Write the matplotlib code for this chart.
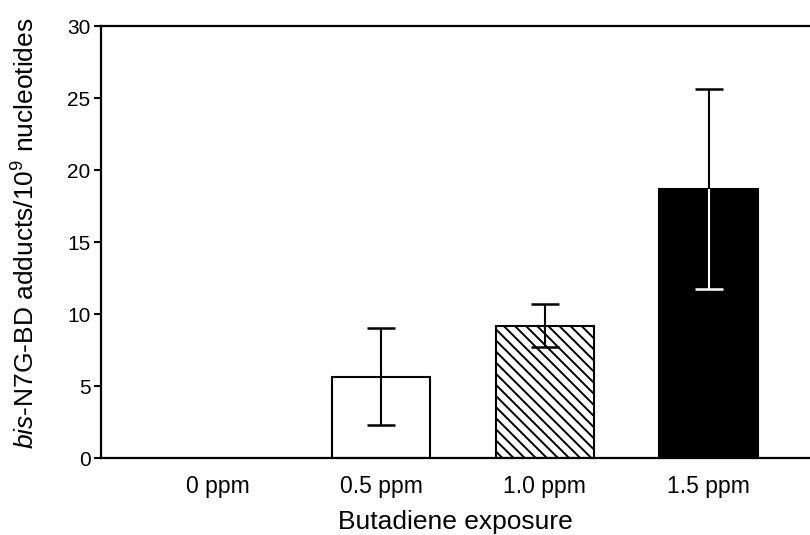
import numpy as np
import matplotlib
matplotlib.use('Agg')
import matplotlib.pyplot as plt

plt.rcParams['font.family'] = ['Liberation Sans', 'DejaVu Sans']
plt.rcParams['mathtext.fontset'] = 'custom'
plt.rcParams['mathtext.rm'] = 'Liberation Sans'
plt.rcParams['mathtext.it'] = 'Liberation Sans:italic'
plt.rcParams['hatch.linewidth'] = 1.4

# data
doses = ['0 ppm', '0.5 ppm', '1.0 ppm', '1.5 ppm']
means = [0.0, 5.65, 9.2, 18.7]
sds = [0.0, 3.38, 1.48, 6.95]
fills = ['white', 'white', 'white', 'black']
hatches = ['', '', '\\\\\\', '']
lower_err_col = ['black', 'black', 'black', 'white']

fig = plt.figure(figsize=(8.1, 5.35), dpi=100)
ax = fig.add_axes([0.1253, 0.1439, 0.8747, 0.8075])

x = np.arange(len(doses))
for i in x:
    if means[i] > 0:
        ax.bar(x[i], means[i], width=0.6, color=fills[i], edgecolor='black',
               linewidth=1.5, hatch=hatches[i], zorder=2)
    if sds[i] > 0:
        top = means[i] + sds[i]
        bot = means[i] - sds[i]
        # upper whisker is black, lower one is white inside the black bar
        ax.vlines(x[i], means[i], top, color='black', lw=1.5, zorder=3)
        ax.plot(x[i], top, marker='_', ms=20, mew=1.8, color='black', zorder=3)
        ax.vlines(x[i], bot, means[i], color=lower_err_col[i], lw=1.5, zorder=3)
        ax.plot(x[i], bot, marker='_', ms=20, mew=1.8, color=lower_err_col[i], zorder=3)

ax.set_xlim(-0.709, 3.62)
ax.set_ylim(0, 30)
ax.set_yticks([0, 5, 10, 15, 20, 25, 30])
ax.set_xticks(x)
ax.set_xticklabels(doses)

for s in ['left', 'top', 'bottom']:
    ax.spines[s].set_linewidth(1.6)
ax.spines['right'].set_visible(False)
ax.tick_params(axis='y', direction='out', length=5, width=1.5, pad=3, labelsize=15)
ax.tick_params(axis='x', length=0, pad=12, labelsize=16.5)

ax.set_xlabel('Butadiene exposure', fontsize=19, labelpad=9)
ax.set_ylabel(r'$\mathit{bis}$-N7G-BD adducts/10$^{9}$ nucleotides', fontsize=19)
ax.yaxis.set_label_coords(-0.088, 0.52)

fig.savefig('out.png', dpi=100)
